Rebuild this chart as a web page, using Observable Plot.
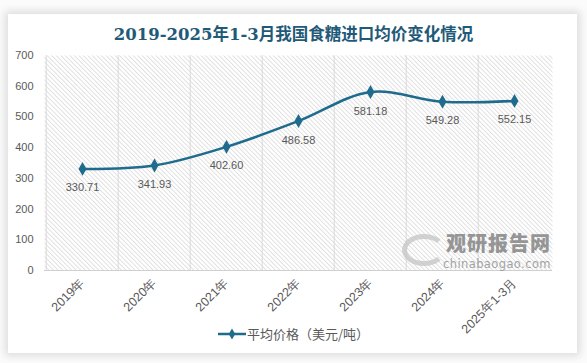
<!DOCTYPE html>
<html>
<head>
<meta charset="utf-8">
<script src="https://cdn.jsdelivr.net/npm/d3@7"></script>
<script src="https://cdn.jsdelivr.net/npm/@observablehq/plot@0.6"></script>
<style>
  html, body { margin: 0; padding: 0; background: #ffffff; }
  #wrap { position: relative; width: 587px; height: 363px; overflow: hidden; background: #fbfbfb; }
  #card { position: absolute; left: 8px; top: 14px; width: 569px; height: 339px; background: #ffffff;
          box-shadow: 0 0 8px 3px rgba(0,0,0,0.12); }
  #title { position: absolute; left: 0; top: 24px; width: 587px; text-align: center;
           font-family: "DejaVu Serif", "Noto Sans CJK SC", serif; font-weight: bold; font-size: 16.5px;
           color: #1f5a78; line-height: 22px; white-space: nowrap; }
  #chart { position: absolute; left: 0; top: 0; }
  #legend { position: absolute; left: 0; top: 324px; width: 587px; display: flex; justify-content: center;
            align-items: center; font-family: "Noto Sans CJK SC", sans-serif; font-size: 13px; color: #595959; }
  #legend svg { margin-right: 1px; }
  .wm1 { position: absolute; left: 446px; top: 232px; font-family: "Noto Sans CJK SC", sans-serif; font-weight: 900;
         font-size: 20px; line-height: 21px; color: #858585; letter-spacing: 1px; opacity: 0.85; }
  .wm2 { position: absolute; left: 443px; top: 258px; font-family: "DejaVu Sans", sans-serif; font-size: 11.5px;
         line-height: 12px; color: #9a9a9a; letter-spacing: 0.4px; opacity: 0.9; }
  .wmlogo { position: absolute; left: 402px; top: 234px; width: 34px; height: 22px; border-radius: 50%;
            border: 5px solid #c8c8c8; border-right-color: transparent; opacity: 0.8; }
</style>
</head>
<body>
<div id="wrap">
  <div id="card"></div>
  <div id="title">2019-2025年1-3月我国食糖进口均价变化情况</div>
  <div id="chart"></div>
  <div class="wmlogo"></div>
  <div class="wm1">观研报告网</div>
  <div class="wm2">chinabaogao.com</div>
  <div id="legend"></div>
</div>
<script>
const categories = ["2019年", "2020年", "2021年", "2022年", "2023年", "2024年", "2025年1-3月"];
const prices = [330.71, 341.93, 402.60, 486.58, 581.18, 549.28, 552.15];
const yTicks = [0, 100, 200, 300, 400, 500, 600, 700];
const seriesName = "平均价格（美元/吨）";

const data = categories.map((c, i) => ({cat: c, value: prices[i]}));

const W = 587, H = 350;
const mL = 44, mR = 35, mT = 55, mB = 80;
const step = (W - mL - mR) / categories.length;
const lineColor = "#1f6b8e";
const textColor = "#595959";

const chart = Plot.plot({
  width: W,
  height: H,
  marginLeft: mL,
  marginRight: mR,
  marginTop: mT,
  marginBottom: mB,
  style: {background: "transparent", fontFamily: "'Liberation Sans', Arial, sans-serif", fontSize: "11px", color: textColor, overflow: "visible"},
  x: {type: "point", domain: categories, padding: 0.5, label: null},
  y: {domain: [0, 700], ticks: yTicks, label: null},
  marks: [
    Plot.frame({fill: "url(#hatch)", stroke: null}),
    Plot.ruleX(categories, {x: d => d, dx: -step / 2, stroke: "#d9d9d9", strokeWidth: 1}),
    Plot.ruleY([0], {stroke: "#d0d0d0", strokeWidth: 1}),
    Plot.axisY({ticks: yTicks, tickSize: 0, tickPadding: 11, label: null, fill: textColor, fontSize: 11}),
    Plot.axisX({tickSize: 0, tickPadding: 10, tickRotate: -45, label: null, fill: textColor, fontSize: 12.5}),
    Plot.line(data, {x: "cat", y: "value", stroke: lineColor, strokeWidth: 2.5, curve: "catmull-rom"}),
    Plot.dot(data, {x: "cat", y: "value", symbol: "diamond", r: 4.2, fill: lineColor, stroke: null}),
    Plot.text(data, {x: "cat", y: "value", text: d => d.value.toFixed(2), dy: 19, fill: textColor, fontSize: 11})
  ]
});

const svg = d3.select(chart);
const pat = svg.insert("defs", ":first-child").append("pattern")
  .attr("id", "hatch").attr("patternUnits", "userSpaceOnUse")
  .attr("width", 3.2).attr("height", 3.2).attr("patternTransform", "rotate(-45)");
pat.append("rect").attr("width", 3.2).attr("height", 3.2).attr("fill", "#ffffff");
pat.append("line").attr("x1", 0.5).attr("y1", 0).attr("x2", 0.5).attr("y2", 3.2)
  .attr("stroke", "#dadada").attr("stroke-width", 0.8);

document.getElementById("chart").appendChild(chart);

// legend
const leg = document.getElementById("legend");
const ls = d3.create("svg").attr("width", 28).attr("height", 12);
ls.append("line").attr("x1", 0).attr("x2", 28).attr("y1", 6).attr("y2", 6).attr("stroke", lineColor).attr("stroke-width", 2.5);
ls.append("path").attr("d", d3.symbol(d3.symbolDiamond, 36)()).attr("transform", "translate(14,6)").attr("fill", lineColor);
leg.appendChild(ls.node());
const lt = document.createElement("span");
lt.textContent = seriesName;
leg.appendChild(lt);
</script>
</body>
</html>
